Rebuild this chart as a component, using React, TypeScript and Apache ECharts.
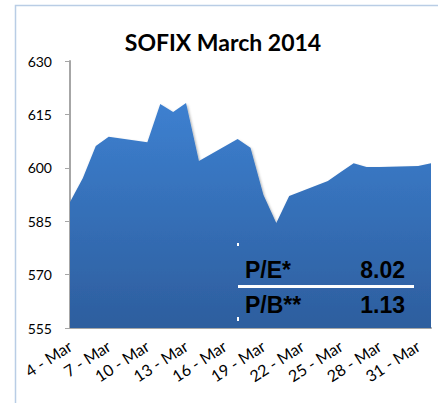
import React, { useEffect, useRef } from "react";
import * as echarts from "echarts";

const days: string[] = [
  "4 - Mar", "5 - Mar", "6 - Mar", "7 - Mar", "8 - Mar", "9 - Mar", "10 - Mar",
  "11 - Mar", "12 - Mar", "13 - Mar", "14 - Mar", "15 - Mar", "16 - Mar", "17 - Mar",
  "18 - Mar", "19 - Mar", "20 - Mar", "21 - Mar", "22 - Mar", "23 - Mar", "24 - Mar",
  "25 - Mar", "26 - Mar", "27 - Mar", "28 - Mar", "29 - Mar", "30 - Mar", "31 - Mar",
  "1 - Apr",
];

// SOFIX closing values (null = non-trading day)
const sofix: (number | null)[] = [
  590.4, 597.1, 606.1, 608.7, null, null, 607.2,
  617.9, 615.7, 618.2, 601.9, null, null, 608.1,
  605.6, 592.4, 584.5, 592.1, null, null, 596.3,
  598.8, 601.3, 600.2, 600.2, null, null, 600.5,
  601.3,
];

const yTicks = { min: 555, max: 630, interval: 15 };

const titleText = "SOFIX March 2014";
const ratioLabels = ["P/E*", "P/B**"];
const ratioValues = ["8.02", "1.13"];

export default function App() {
  const ref = useRef<HTMLDivElement>(null);

  useEffect(() => {
    if (!ref.current) return;
    const chart = echarts.init(ref.current, null, { renderer: "svg" });
    const font = "Lato, 'Noto Sans', sans-serif";
    chart.setOption({
      animation: false,
      backgroundColor: "#ffffff",
      grid: { left: 70, right: 7, top: 61, bottom: 75 },
      xAxis: {
        type: "category",
        data: days,
        boundaryGap: false,
        axisLine: { show: true, lineStyle: { color: "#a6a6a6", width: 2 } },
        axisTick: { show: false },
        axisLabel: {
          interval: 2,
          rotate: 33,
          margin: 16,
          fontFamily: font,
          fontSize: 16,
          color: "#000000",
        },
        splitLine: { show: false },
      },
      yAxis: {
        type: "value",
        min: yTicks.min,
        max: yTicks.max,
        interval: yTicks.interval,
        axisLine: { show: true, lineStyle: { color: "#a6a6a6", width: 2 } },
        axisTick: { show: true, length: 5, lineStyle: { color: "#a6a6a6", width: 1 } },
        axisLabel: { margin: 18, fontFamily: font, fontSize: 14, color: "#000000" },
        splitLine: { show: false },
      },
      series: [
        {
          type: "line",
          data: sofix,
          connectNulls: true,
          symbol: "none",
          lineStyle: { width: 0 },
          z: 1,
          areaStyle: {
            origin: "start",
            opacity: 1,
            color: new echarts.graphic.LinearGradient(0, 0, 0, 1, [
              { offset: 0, color: "#3d80d0" },
              { offset: 1, color: "#2d5e9e" },
            ]),
            shadowBlur: 3,
            shadowColor: "rgba(0,0,0,0.4)",
            shadowOffsetX: 1,
            shadowOffsetY: 2,
          },
        },
      ],
      graphic: [
        {
          type: "rect",
          shape: { x: 15.5, y: 5.5, width: 440, height: 420 },
          style: { fill: "none", stroke: "#b9cde5", lineWidth: 1.5 },
          z: 0,
          silent: true,
        },
        {
          type: "text",
          x: 223,
          y: 42,
          z: 10,
          style: {
            text: titleText,
            font: "bold 23px Lato, 'Noto Sans', sans-serif",
            fill: "#000000",
            textAlign: "center",
            textVerticalAlign: "middle",
          },
        },
        {
          type: "rect",
          shape: { x: 238, y: 285, width: 176, height: 3 },
          style: { fill: "#ffffff" },
          z: 10,
        },
        {
          type: "rect",
          shape: { x: 237, y: 243, width: 2, height: 3 },
          style: { fill: "#ffffff" },
          z: 10,
        },
        {
          type: "rect",
          shape: { x: 237, y: 317, width: 2, height: 4 },
          style: { fill: "#ffffff" },
          z: 10,
        },
        ...ratioLabels.map((t, i) => ({
          type: "text",
          x: 245,
          y: 270 + i * 35,
          z: 10,
          style: {
            text: t,
            font: "bold 23px 'Liberation Sans', Arial, sans-serif",
            fill: "#000000",
            textAlign: "left",
            textVerticalAlign: "middle",
          },
        })),
        ...ratioValues.map((t, i) => ({
          type: "text",
          x: 405,
          y: 270 + i * 35,
          z: 10,
          style: {
            text: t,
            font: "bold 23px 'Liberation Sans', Arial, sans-serif",
            fill: "#000000",
            textAlign: "right",
            textVerticalAlign: "middle",
          },
        })),
      ],
    });
    return () => chart.dispose();
  }, []);

  return (
    <div
      ref={ref}
      style={{ position: "fixed", left: 0, top: 0, width: 438, height: 403 }}
    />
  );
}
